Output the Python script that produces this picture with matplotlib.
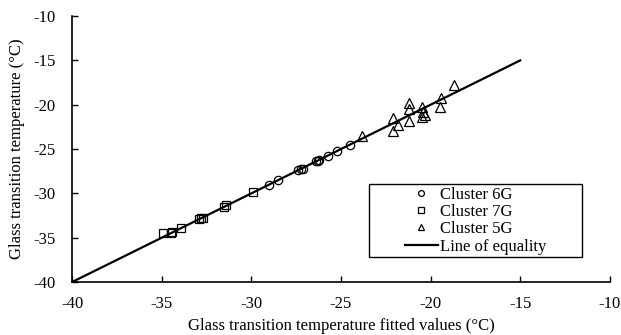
import matplotlib
matplotlib.use("Agg")
import matplotlib.pyplot as plt
from matplotlib.patches import Rectangle

c6g_x = [-29.0, -28.5, -27.4, -27.2, -27.1, -26.4, -26.3, -26.2, -25.7, -25.2, -24.5]
c6g_y = [-29.05, -28.5, -27.4, -27.3, -27.2, -26.35, -26.3, -26.2, -25.75, -25.2, -24.5]

c7g_x = [-34.9, -34.5, -34.4, -33.9, -32.9, -32.8, -32.7, -31.5, -31.4, -29.9]
c7g_y = [-34.5, -34.5, -34.4, -33.9, -32.9, -32.8, -32.8, -31.5, -31.3, -29.8]

c5g_x = [-23.85, -22.1, -22.1, -21.8, -21.2, -21.2, -21.2, -20.5, -20.4, -20.5,
         -20.3, -19.4, -19.5, -18.7]
c5g_y = [-23.5, -21.5, -23.0, -22.3, -19.85, -20.5, -21.8, -20.2, -20.8, -21.4,
         -21.2, -19.2, -20.2, -17.8]

eq_line = [-40, -15]

plt.rcParams["font.family"] = ["Liberation Serif", "DejaVu Serif"]
plt.rcParams["font.size"] = 12
plt.rcParams["axes.unicode_minus"] = False

fig = plt.figure(figsize=(6.21, 3.35), dpi=100)
ax = fig.add_axes([0.116, 0.158, 0.866, 0.794])

mk = dict(linestyle="none", markerfacecolor="none", markeredgecolor="black",
          markeredgewidth=0.9)
ax.plot(c6g_x, c6g_y, marker="o", markersize=6, label="Cluster 6G", **mk)
ax.plot(c7g_x, c7g_y, marker="s", markersize=6, label="Cluster 7G", **mk)
ax.plot(c5g_x, c5g_y, marker="^", markersize=7, label="Cluster 5G", **mk)
ax.plot(eq_line, eq_line, color="black", lw=1.6, label="Line of equality")

ax.set_xlim(-40, -10)
ax.set_ylim(-40, -10)
ax.set_xticks(range(-40, -9, 5))
ax.set_yticks(range(-40, -9, 5))
ax.tick_params(direction="in", length=4, width=1, labelsize=12)
ax.tick_params(axis="x", pad=10)
ax.tick_params(axis="y", pad=12)
for s in ("top", "right"):
    ax.spines[s].set_visible(False)
for s in ("left", "bottom"):
    ax.spines[s].set_linewidth(1.2)

ax.set_xlabel("Glass transition temperature fitted values (°C)", labelpad=4)
ax.set_ylabel("Glass transition temperature (°C)", labelpad=6)

# legend box is wider than its content, content centred inside
ax.add_patch(Rectangle((0.552, 0.094), 0.396, 0.274, transform=ax.transAxes,
                       facecolor="white", edgecolor="black", lw=1.0, zorder=4))
leg = ax.legend(loc="center", bbox_to_anchor=(0.75, 0.231), frameon=False,
                markerscale=0.7, handlelength=2.0, handletextpad=0.1,
                borderpad=0, labelspacing=0.08)
leg.set_zorder(5)

fig.savefig("out.png", dpi=100)
